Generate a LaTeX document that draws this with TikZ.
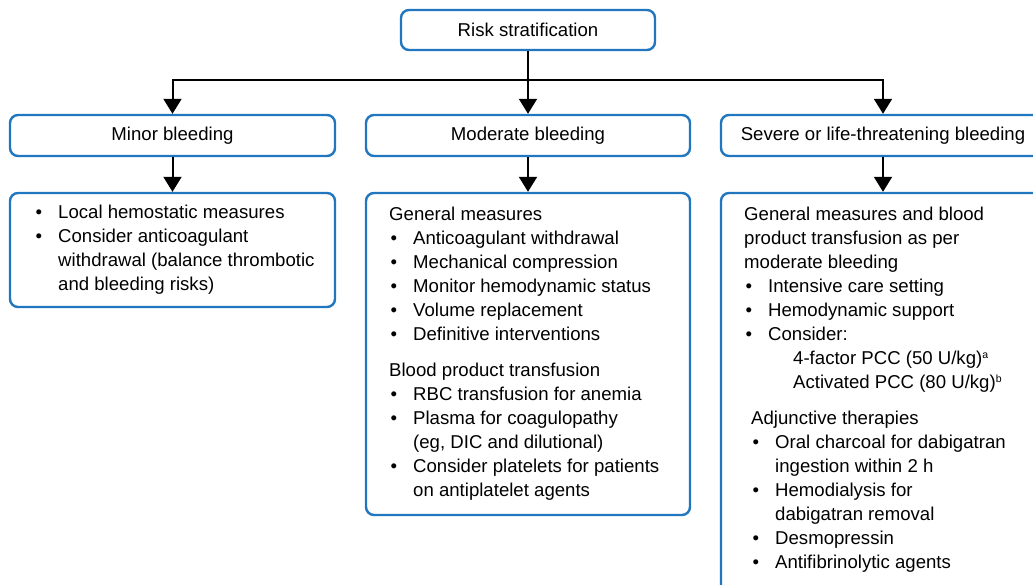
\documentclass[tikz,border=0pt]{standalone}
\usepackage{fontspec}
\setmainfont{Liberation Sans}
\usetikzlibrary{arrows.meta}
\definecolor{boxblue}{RGB}{33,118,192}
\newcommand{\bl}[1]{\makebox[24pt][l]{\hspace{1.5pt}•}#1}
\newcommand{\ct}[1]{\hspace*{24pt}#1}
\newcommand{\sups}[1]{\raisebox{6.5pt}{\fontsize{10.5}{10.5}\selectfont #1}}
\begin{document}
\begin{tikzpicture}[x=1pt,y=-1pt,
  box/.style={draw=boxblue,line width=2.4pt,rounded corners=8pt,fill=white,inner sep=0pt},
  txt/.style={font=\fontsize{18.6}{24}\selectfont},
  body/.style={anchor=base west,inner sep=0pt,font=\fontsize{18.6}{24}\selectfont},
  arr/.style={draw=black,line width=2pt,-{Triangle[width=18pt,length=15pt]}}]
\useasboundingbox (0,0) rectangle (1033,585);
\clip (0,0) rectangle (1033,585);
% row 1 and 2
\node[box,txt,minimum width=254pt,minimum height=40pt] (risk) at (528,30) {Risk stratification};
\node[box,txt,minimum width=325pt,minimum height=41pt] (minor) at (172.5,135.5) {Minor bleeding};
\node[box,txt,minimum width=324pt,minimum height=41pt] (moder) at (528,135.5) {Moderate bleeding};
\node[box,txt,minimum width=324pt,minimum height=41pt] (sever) at (883,135.5) {Severe or life-threatening bleeding};
% row 3 boxes
\node[box,minimum width=325pt,minimum height=114pt] (minorb) at (172.5,250) {};
\node[box,minimum width=324pt,minimum height=322pt] (moderb) at (528,354) {};
\node[box,minimum width=324pt,minimum height=410pt] (severb) at (883,398) {};
% connectors
\coordinate (hj) at (528,80);
\draw[arr] (risk.south) -- (moder.north);
\draw[arr] (hj) -| (minor.north);
\draw[arr] (hj) -| (sever.north);
\draw[arr] (minor.south) -- (minorb.north);
\draw[arr] (moder.south) -- (moderb.north);
\draw[arr] (sever.south) -- (severb.north);
% texts
\node[body] (minort) at (34,219) {\parbox[t]{300pt}{%
\bl{Local hemostatic measures}\\
\bl{Consider anticoagulant}\\
\ct{withdrawal (balance thrombotic}\\
\ct{and bleeding risks)}}};
\node[body] (modert) at (389,221) {\parbox[t]{300pt}{%
General measures\\
\bl{Anticoagulant withdrawal}\\
\bl{Mechanical compression}\\
\bl{Monitor hemodynamic status}\\
\bl{Volume replacement}\\
\bl{Definitive interventions}\\[12pt]
Blood product transfusion\\
\bl{RBC transfusion for anemia}\\
\bl{Plasma for coagulopathy}\\
\ct{(eg, DIC and dilutional)}\\
\bl{Consider platelets for patients}\\
\ct{on antiplatelet agents}}};
\node[body] (severt) at (744,221) {\parbox[t]{300pt}{%
General measures and blood\\
product transfusion as per\\
moderate bleeding\\
\bl{Intensive care setting}\\
\bl{Hemodynamic support}\\
\bl{Consider:}\\
\hspace*{49pt}4-factor PCC (50 U/kg)\sups{a}\\
\hspace*{49pt}Activated PCC (80 U/kg)\sups{b}\\[12pt]
\hspace*{7pt}Adjunctive therapies\\
\hspace*{7pt}\bl{Oral charcoal for dabigatran}\\
\hspace*{31pt}ingestion within 2 h\\
\hspace*{7pt}\bl{Hemodialysis for}\\
\hspace*{31pt}dabigatran removal\\
\hspace*{7pt}\bl{Desmopressin}\\
\hspace*{7pt}\bl{Antifibrinolytic agents}}};
\end{tikzpicture}
\end{document}
